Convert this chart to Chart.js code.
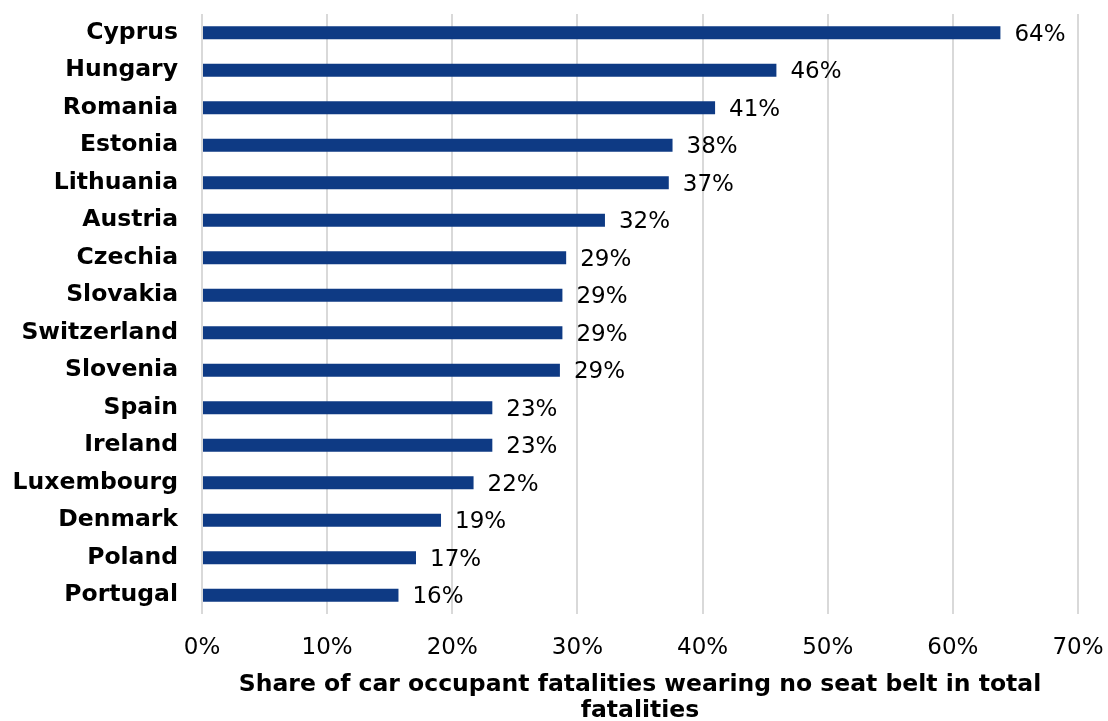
<!DOCTYPE html>
<html>
<head>
<meta charset="utf-8">
<script src="https://cdn.jsdelivr.net/npm/chart.js@4"></script>
<style>
  html, body { margin: 0; padding: 0; background: #fff; }
  #wrap { width: 1108px; height: 721px; }
</style>
</head>
<body>
<div id="wrap"><canvas id="belts"></canvas></div>
<script>
const countries = ["Cyprus", "Hungary", "Romania", "Estonia", "Lithuania", "Austria", "Czechia",
  "Slovakia", "Switzerland", "Slovenia", "Spain", "Ireland", "Luxembourg", "Denmark", "Poland", "Portugal"];
// share (%) of car occupant fatalities not wearing a seat belt
const shares = [63.8, 45.9, 41.0, 37.6, 37.3, 32.2, 29.1, 28.8, 28.8, 28.6, 23.2, 23.2, 21.7, 19.1, 17.1, 15.7];
const axisTitle = ["Share of car occupant fatalities wearing no seat belt in total", "fatalities"];

const FONT = "'DejaVu Sans', Verdana, sans-serif";

// draws the value label just right of every bar
const valueLabels = {
  id: 'valueLabels',
  afterDatasetsDraw(chart) {
    const ctx = chart.ctx;
    const meta = chart.getDatasetMeta(0);
    ctx.save();
    ctx.font = "23px " + FONT;
    ctx.fillStyle = "#000";
    ctx.textAlign = "left";
    ctx.textBaseline = "middle";
    meta.data.forEach((bar, i) => {
      const v = chart.data.datasets[0].data[i];
      ctx.fillText(Math.round(v) + "%", bar.x + 14, bar.y + 2);
    });
    ctx.restore();
  }
};

new Chart(document.getElementById('belts').getContext('2d'), {
  type: 'bar',
  data: {
    labels: countries,
    datasets: [{
      data: shares,
      backgroundColor: '#0e3a84',
      barPercentage: 0.7,
      categoryPercentage: 0.5
    }]
  },
  options: {
    indexAxis: 'y',
    responsive: true,
    maintainAspectRatio: false,
    animation: false,
    layout: { padding: { top: 14, right: 30, left: 0, bottom: 0 } },
    plugins: { legend: { display: false }, tooltip: { enabled: false } },
    scales: {
      x: {
        min: 0,
        max: 70,
        ticks: {
          stepSize: 10,
          padding: 20,
          color: '#000',
          font: { family: FONT, size: 23 },
          callback: v => v + '%'
        },
        grid: { color: '#d9d9d9', lineWidth: 2, drawTicks: false },
        border: { display: false },
        title: {
          display: true,
          text: axisTitle,
          color: '#000',
          padding: { top: 0, bottom: -3 },
          font: { family: FONT, size: 23.5, weight: 'bold', lineHeight: '26px' }
        },
        afterFit: s => { s.height = 107; s.paddingLeft = 0; s.paddingRight = 0; }
      },
      y: {
        ticks: {
          padding: 24,
          color: '#000',
          font: { family: FONT, size: 23.5, weight: 'bold' }
        },
        grid: { display: false, drawTicks: false },
        border: { display: false },
        afterFit: s => { s.width = 202; s.paddingTop = 0; s.paddingBottom = 0; }
      }
    }
  },
  plugins: [valueLabels]
});
</script>
</body>
</html>
